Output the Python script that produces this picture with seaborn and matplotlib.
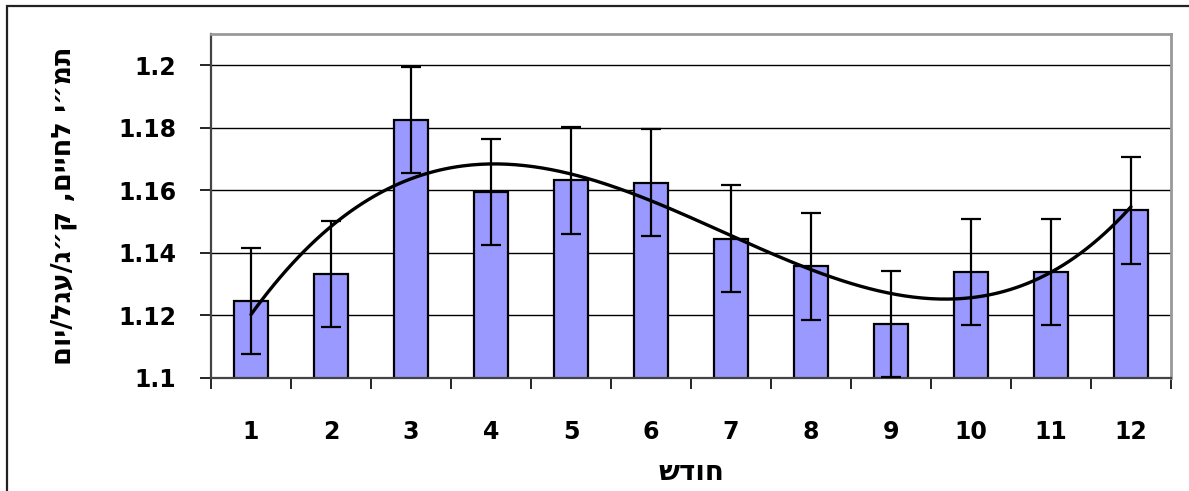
import numpy as np
import pandas as pd
import matplotlib
matplotlib.use("Agg")
import matplotlib.pyplot as plt
from matplotlib.patches import Rectangle
import seaborn as sns

# Monthly means with their error margins
months = [1, 2, 3, 4, 5, 6, 7, 8, 9, 10, 11, 12]
gain = [1.1247, 1.1332, 1.1825, 1.1594, 1.1632, 1.1625,
        1.1446, 1.1357, 1.1173, 1.1338, 1.1338, 1.1536]
err = [0.017, 0.017, 0.017, 0.017, 0.017, 0.017,
       0.017, 0.017, 0.017, 0.017, 0.017, 0.017]
y_ticks = [1.1, 1.12, 1.14, 1.16, 1.18, 1.2]
y_tick_labels = ["1.1", "1.12", "1.14", "1.16", "1.18", "1.2"]
trend_degree = 4

x_label = "חודש"
y_label = "תמ״י לחיים, ק״ג/עגל/יום"


def visual(s):
    # matplotlib lays glyphs out left to right, so Hebrew is given in visual order
    return s[::-1]


df = pd.DataFrame({"month": [str(m) for m in months], "gain": gain})

sns.set_theme(style="white")
plt.rcParams["font.family"] = ["DejaVu Sans"]
plt.rcParams.update({"text.color": "black", "axes.labelcolor": "black",
                     "xtick.color": "black", "ytick.color": "black"})

W, H = 1189, 491
fig = plt.figure(figsize=(W / 100, H / 100), dpi=100)
ax = fig.add_axes([211 / W, 1 - 378 / H, 960 / W, 344 / H])

# outer chart frame
fig.patches.append(Rectangle((7 / W, -0.1), 1.2, 1 - 6 / H + 0.1,
                             transform=fig.transFigure, fill=False,
                             edgecolor="#222222", linewidth=1.6))

ax.set_ylim(1.1, 1.21)
ax.set_xlim(-0.5, 11.5)
for t in y_ticks:
    ax.axhline(t, color="black", linewidth=1.0, zorder=0.5)

sns.barplot(data=df, x="month", y="gain", ax=ax, color="#9999FF",
            saturation=1, width=0.42, edgecolor="black", linewidth=1.6,
            errorbar=None, zorder=2)

pos = np.arange(len(months))
ax.errorbar(pos, gain, yerr=err, fmt="none", ecolor="black",
            elinewidth=1.6, capsize=7.5, capthick=1.6, zorder=3)

# polynomial trendline through the monthly means
coef = np.polyfit(pos, gain, trend_degree)
xs = np.linspace(0, len(months) - 1, 300)
ax.plot(xs, np.polyval(coef, xs), color="black", linewidth=2.4,
        solid_capstyle="round", zorder=4)

ax.set_yticks(y_ticks)
ax.set_yticklabels(y_tick_labels, fontsize=17, fontweight="bold")
ax.set_xticks(pos)
ax.set_xticklabels([str(m) for m in months], fontsize=17, fontweight="bold")
ax.set_xticks(np.arange(-0.5, 12, 1.0), minor=True)
ax.tick_params(axis="x", which="major", length=0, pad=30, labelcolor="black")
ax.tick_params(axis="x", which="minor", length=8, width=1.2, color="black",
               direction="out", bottom=True)
ax.tick_params(axis="y", which="major", length=8, width=1.2, color="black",
               direction="out", left=True, pad=17, labelcolor="black")

for side in ["top", "right"]:
    ax.spines[side].set_visible(True)
    ax.spines[side].set_color("#999999")
    ax.spines[side].set_linewidth(2)
ax.spines["left"].set_color("#444444")
ax.spines["left"].set_linewidth(1.6)
ax.spines["bottom"].set_color("#444444")
ax.spines["bottom"].set_linewidth(1.6)

ax.set_xlabel(visual(x_label), fontsize=20, fontweight="bold", labelpad=10,
              color="black")
ax.set_ylabel(visual(y_label), fontsize=19.5, fontweight="bold", va="center",
              color="black")
ax.yaxis.set_label_coords((64 - 211) / 960, 0.5)

fig.savefig("out.png", dpi=100)
